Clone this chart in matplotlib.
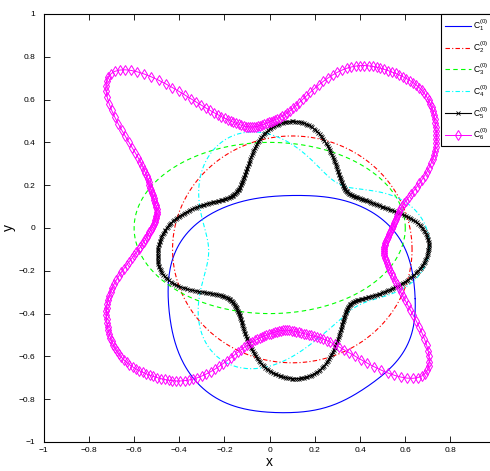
import numpy as np
import matplotlib.pyplot as plt

plt.rcParams['font.family'] = ['Liberation Sans', 'DejaVu Sans']
plt.rcParams['mathtext.fontset'] = 'custom'
plt.rcParams['mathtext.rm'] = 'Liberation Sans'
plt.rcParams['mathtext.it'] = 'Liberation Sans'

# C1: flattened circle, traced points
c1_x = [0.10, -0.16, -0.34, -0.42, -0.45, -0.45, -0.40, -0.38, -0.295, -0.29,
        0.0, 0.1, 0.2, 0.267, 0.41, 0.52, 0.585, 0.61, 0.64, 0.64, 0.61, 0.50, 0.36]
c1_y = [-0.86, -0.83, -0.71, -0.51, -0.30, -0.24, -0.09, -0.02, 0.037, 0.04,
        0.145, 0.15, 0.15, 0.14, 0.10, 0.02, -0.07, -0.12, -0.28, -0.40, -0.56, -0.68, -0.79]
c1_center = (0.10, -0.33)

# C2: circle, C3: ellipse
c2_center = (0.10, -0.10)
c2_radius = 0.53
c3_center = (0.0, 0.0)
c3_axes = (0.60, 0.40)

# C4: wavy closed curve
c4_x = [-0.087, -0.21, -0.26, -0.31, -0.31, -0.28, -0.26, -0.29, -0.31, -0.28, -0.23,
        -0.087, 0.06, 0.21, 0.33, 0.46, 0.61, 0.68, 0.70, 0.70, 0.64, 0.49, 0.34, 0.27,
        0.18, 0.09, -0.01]
c4_y = [0.449, 0.41, 0.36, 0.21, 0.08, -0.02, -0.10, -0.21, -0.34, -0.56, -0.62,
        -0.65, -0.63, -0.51, -0.40, -0.32, -0.28, -0.20, -0.10, -0.01, 0.10, 0.16, 0.19, 0.22,
        0.32, 0.40, 0.44]
c4_center = (0.18, -0.10)

# C5: four petals
c5_x = [0.105, 0.077, 0.0, -0.04, -0.087, -0.10, -0.12, -0.16, -0.26, -0.38, -0.455, -0.50,
        -0.485, -0.43, -0.38, -0.23, -0.16, -0.13, -0.10, -0.04, 0.03, 0.105, 0.21, 0.27, 0.31,
        0.34, 0.355, 0.44, 0.56, 0.65, 0.70, 0.70, 0.68, 0.61, 0.49, 0.37, 0.33, 0.31, 0.28,
        0.27, 0.22, 0.15]
c5_y = [0.495, 0.495, 0.47, 0.41, 0.33, 0.27, 0.21, 0.145, 0.115, 0.07, 0.005, -0.12,
        -0.21, -0.243, -0.29, -0.30, -0.35, -0.40, -0.52, -0.63, -0.69, -0.705, -0.68, -0.60, -0.48,
        -0.38, -0.35, -0.32, -0.275, -0.21, -0.135, -0.056, 0.005, 0.05, 0.10, 0.145, 0.18, 0.24, 0.32,
        0.36, 0.44, 0.495]
c5_center = (0.105, -0.105)

# C6: four lobed star
c6_x = [-0.07, -0.153, -0.206, -0.25, -0.40, -0.65, -0.715, -0.73, -0.68, -0.60, -0.53, -0.50,
        -0.51, -0.54, -0.59, -0.65, -0.71, -0.69, -0.73, -0.72, -0.65, -0.53, -0.41, -0.34,
        -0.23, -0.16, -0.087, -0.01, 0.09, 0.21, 0.275, 0.355, 0.49, 0.61, 0.665, 0.71, 0.69,
        0.62, 0.57, 0.51, 0.50, 0.58, 0.70, 0.72, 0.74, 0.70, 0.61, 0.41, 0.27, 0.165, 0.077, 0.0]
c6_y = [0.47, 0.486, 0.505, 0.55, 0.63, 0.75, 0.74, 0.68, 0.52, 0.36, 0.22, 0.10,
        0.02, -0.04, -0.12, -0.20, -0.26, -0.34, -0.42, -0.51, -0.60, -0.70, -0.715, -0.70,
        -0.66, -0.59, -0.54, -0.49, -0.477, -0.50, -0.547, -0.58, -0.66, -0.71, -0.70, -0.63, -0.52,
        -0.385, -0.29, -0.15, -0.08, 0.11, 0.26, 0.33, 0.50, 0.60, 0.705, 0.76, 0.72, 0.61, 0.537, 0.49]
c6_center = (0.0, 0.0)

labels = ['C$_1^{(0)}$', 'C$_2^{(0)}$', 'C$_3^{(0)}$', 'C$_4^{(0)}$', 'C$_5^{(0)}$', 'C$_6^{(0)}$']
tick_vals = [-1, -0.8, -0.6, -0.4, -0.2, 0, 0.2, 0.4, 0.6, 0.8, 1]
xtick_text = ['\u22121', '\u22120.8', '\u22120.6', '\u22120.4', '\u22120.2', '0',
              '0.2', '0.4', '0.6', '0.8', '']
ytick_text = ['\u22121', '\u22120.8', '\u22120.6', '\u22120.4', '\u22120.2', '0',
              '0.2', '0.4', '0.6', '0.8', '1']


def closed_curve(xs, ys, center, n_harm, n_pts):
    # star shaped curve r(theta) around center, low-passed to n_harm harmonics
    dx = np.asarray(xs) - center[0]
    dy = np.asarray(ys) - center[1]
    th = np.arctan2(dy, dx)
    r = np.hypot(dx, dy)
    t = np.linspace(0, 2 * np.pi, 2048, endpoint=False)
    rr = np.interp(t, th, r, period=2 * np.pi)
    spec = np.fft.rfft(rr)
    spec[n_harm + 1:] = 0
    rr = np.fft.irfft(spec, len(t))
    t_out = np.linspace(0, 2 * np.pi, n_pts + 1)
    r_out = np.interp(t_out, np.append(t, 2 * np.pi), np.append(rr, rr[0]))
    return center[0] + r_out * np.cos(t_out), center[1] + r_out * np.sin(t_out)


fig = plt.figure(figsize=(4.9, 4.71), dpi=100)
ax = fig.add_axes([0.0892, 0.0616, 0.9224, 0.9087])

t = np.linspace(0, 2 * np.pi, 400)

x1, y1 = closed_curve(c1_x, c1_y, c1_center, 8, 400)
ax.plot(x1, y1, color=(0, 0, 1), lw=0.8, label=labels[0])

x2 = c2_center[0] + c2_radius * np.cos(t)
y2 = c2_center[1] + c2_radius * np.sin(t)
ax.plot(x2, y2, color=(1, 0, 0), lw=0.8, dashes=(4, 2, 1, 2), label=labels[1])

x3 = c3_center[0] + c3_axes[0] * np.cos(t)
y3 = c3_center[1] + c3_axes[1] * np.sin(t)
ax.plot(x3, y3, color=(0, 1, 0), lw=0.8, dashes=(4, 3), label=labels[2])

x4, y4 = closed_curve(c4_x, c4_y, c4_center, 8, 400)
ax.plot(x4, y4, color=(0, 1, 1), lw=0.8, dashes=(4, 2, 1, 2), label=labels[3])

x5, y5 = closed_curve(c5_x, c5_y, c5_center, 16, 480)
ax.plot(x5, y5, color='k', lw=0.8, marker='x', ms=3, mew=0.6, label=labels[4])

x6, y6 = closed_curve(c6_x, c6_y, c6_center, 16, 330)
ax.plot(x6, y6, color=(1, 0, 1), lw=0.7, marker='d', ms=5.5, mew=0.7, mfc='none',
        label=labels[5])

ax.set_xlim(-1, 1)
ax.set_ylim(-1, 1)
ax.set_xticks(tick_vals)
ax.set_yticks(tick_vals)
ax.set_xticklabels(xtick_text)
ax.set_yticklabels(ytick_text)
ax.tick_params(direction='in', top=True, right=True, length=4, width=0.6, labelsize=6)
ax.tick_params(axis='x', pad=3.5)
ax.tick_params(axis='y', pad=6)
for s in ax.spines.values():
    s.set_linewidth(0.8)
ax.set_xlabel('x', fontsize=10, labelpad=1)
ax.set_ylabel('y', fontsize=10, labelpad=2)

leg = ax.legend(loc='upper right', bbox_to_anchor=(0.992, 1.0), borderaxespad=0,
                fontsize=6.2, fancybox=False, edgecolor='k', framealpha=1, numpoints=1,
                handlelength=3.0, handletextpad=0.25, labelspacing=0.72, borderpad=0.45)
leg.get_frame().set_linewidth(0.8)

fig.savefig('out.png', dpi=100)
